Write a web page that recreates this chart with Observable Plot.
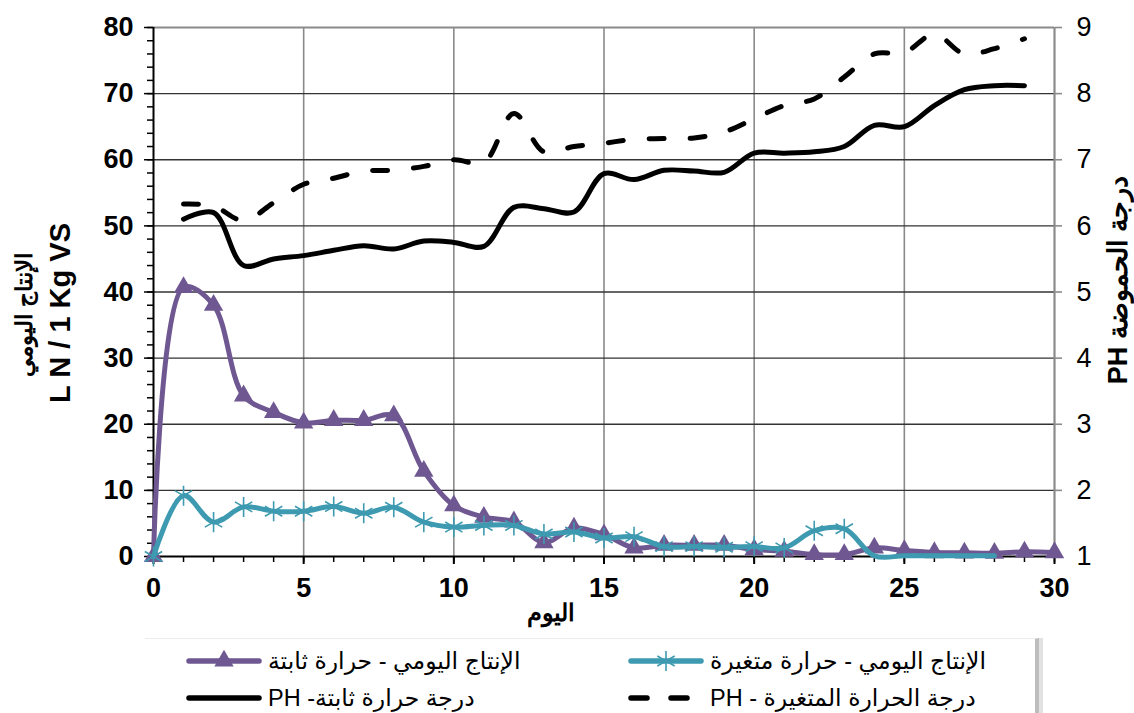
<!DOCTYPE html>
<html>
<head>
<meta charset="utf-8">
<script src="https://cdn.jsdelivr.net/npm/d3@7"></script>
<script src="https://cdn.jsdelivr.net/npm/@observablehq/plot@0.6"></script>
<style>
  html, body { margin: 0; padding: 0; background: #fff; }
  #wrap { position: relative; width: 1134px; height: 713px; overflow: hidden; font-family: "Liberation Sans", Arial, "DejaVu Sans", sans-serif; }
  #chart { position: absolute; left: 0; top: 0; }
  #legend { position: absolute; left: 145px; top: 638px; width: 890px; height: 80px; border-top: 1px solid #ececec; border-right: 4px solid #bdbdbd; box-shadow: 4px 0 0 #e2e2e2; }
  .item { position: absolute; height: 30px; display: flex; align-items: center; }
  .item span { font-size: 23.5px; color: #000; white-space: nowrap; }
</style>
</head>
<body>
<div id="wrap">
  <div id="chart"></div>
  <div id="legend"></div>
</div>
<script>
// ---- data ----
const days = [0,1,2,3,4,5,6,7,8,9,10,11,12,13,14,15,16,17,18,19,20,21,22,23,24,25,26,27,28,29,30];
// daily production, constant temperature (L N / 1 Kg VS)
const prodConst = [0,40.7,38,24.3,21.8,20.2,20.6,20.6,21.3,12.9,7.7,5.95,5.25,2.1,4.3,3.3,1.3,1.7,1.7,1.7,1.05,0.8,0.3,0.3,1.3,0.9,0.6,0.55,0.5,0.7,0.6];
// daily production, variable temperature
const prodVar = [0,9.2,5.2,7.5,6.85,6.85,7.55,6.55,7.45,5.2,4.45,4.7,4.7,3.4,3.7,2.8,3.0,1.5,1.5,1.4,1.5,1.3,3.9,4.2,0.1,0.1,0.1,0.1,0.1,null,null];
// pH, constant temperature
const phConst = [null,6.1,6.2,5.4,5.5,5.55,5.63,5.7,5.65,5.77,5.75,5.69,6.28,6.26,6.21,6.79,6.7,6.84,6.83,6.81,7.1,7.1,7.12,7.2,7.52,7.5,7.82,8.06,8.12,8.12,null];
// pH, variable temperature
const phVar = [null,6.33,6.3,6.08,6.35,6.63,6.72,6.83,6.84,6.9,7.0,6.96,7.7,7.12,7.2,7.25,7.31,7.32,7.33,7.42,7.62,7.82,7.92,8.25,8.6,8.62,8.9,8.6,8.68,8.83,null];

const xTicks = [0,5,10,15,20,25,30];
const yTicks = [0,10,20,30,40,50,60,70,80];
const phTicks = [1,2,3,4,5,6,7,8,9];
const lastVarMarkerDay = 23;

const xLabel = "اليوم";
const yLabel1 = "الإنتاج اليومي";
const yLabel2 = "L N / 1 Kg VS";
const y2Label = "درجة الحموضة PH";
const legendLabels = {
  pc: "الإنتاج اليومي - حرارة ثابتة",
  pv: "الإنتاج اليومي - حرارة متغيرة",
  hc: "درجة حرارة ثابتة- PH",
  hv: "درجة الحرارة المتغيرة - PH"
};

const PURPLE = "#6f5891";
const TEAL = "#3e9ab0";
const GRIDV = "#8a8a8a";
const GRIDH = "#333333";

// pH (1..9) mapped onto left scale (0..80)
const toLeft = v => (v - 1) * 10;

const rows = days.map((d, i) => ({day: d, pc: prodConst[i], pv: prodVar[i], hc: phConst[i], hv: phVar[i]}));
const rPc = rows.filter(r => r.pc != null);
const rPv = rows.filter(r => r.pv != null);
const rHc = rows.filter(r => r.hc != null).map(r => ({day: r.day, y: toLeft(r.hc)}));
const rHv = rows.filter(r => r.hv != null).map(r => ({day: r.day, y: toLeft(r.hv)}));

const curve = "catmull-rom";

const chart = Plot.plot({
  width: 1134,
  height: 633,
  marginLeft: 153,
  marginRight: 80,
  marginTop: 27,
  marginBottom: 77,
  x: {domain: [0, 30]},
  y: {domain: [0, 80]},
  style: {fontFamily: "'Liberation Sans', Arial, sans-serif", fontSize: "25px", color: "#000", background: "transparent", overflow: "visible"},
  marks: [
    // grid
    Plot.ruleX(xTicks.filter(v => v > 0 && v < 30), {stroke: GRIDV, strokeWidth: 1.6}),
    Plot.ruleY(yTicks.filter(v => v > 0 && v < 80), {stroke: GRIDH, strokeWidth: 1.4}),
    Plot.ruleY([80], {stroke: GRIDV, strokeWidth: 2.2}),
    Plot.ruleX([30], {stroke: GRIDV, strokeWidth: 2.2}),
    // axes
    Plot.axisY(d3.range(0, 81, 2), {tickSize: 6, tickFormat: () => "", label: null, strokeWidth: 1.5}),
    Plot.axisY(yTicks, {tickSize: 9, tickPadding: 11, fontWeight: "bold", label: null, strokeWidth: 1.5, ariaLabel: "left-ticks"}),
    Plot.axisX(days, {tickSize: 6, tickFormat: () => "", label: null, strokeWidth: 1.5}),
    Plot.axisX(xTicks, {tickSize: 8, tickPadding: 13, fontWeight: "bold", label: null, strokeWidth: 2}),
    Plot.axisY(phTicks.map(toLeft), {anchor: "right", tickSize: 7, tickPadding: 15, stroke: GRIDV, strokeWidth: 1.6, tickFormat: d => d / 10 + 1, label: null}),
    Plot.ruleX([0], {stroke: "#000", strokeWidth: 2}),
    Plot.ruleY([0], {stroke: "#000", strokeWidth: 2}),
    // pH lines
    Plot.line(rHv, {x: "day", y: "y", stroke: "#000", strokeWidth: 5, curve, strokeDasharray: "15,26", strokeLinecap: "round"}),
    Plot.line(rHc, {x: "day", y: "y", stroke: "#000", strokeWidth: 5, curve}),
    // production lines
    Plot.line(rPc, {x: "day", y: "pc", stroke: PURPLE, strokeWidth: 5, curve}),
    Plot.dot(rPc, {x: "day", y: "pc", symbol: "triangle", r: 7.2, fill: PURPLE}),
    Plot.line(rPv, {x: "day", y: "pv", stroke: TEAL, strokeWidth: 5, curve}),
    Plot.dot(rPv.filter(r => r.day <= lastVarMarkerDay), {x: "day", y: "pv", symbol: "asterisk", r: 9.5, stroke: TEAL, strokeWidth: 1.6})
  ]
});
document.getElementById("chart").appendChild(chart);

const svg = d3.select(chart);
// enlarge tick label text
svg.selectAll('g[aria-label$="tick label"]').attr("font-size", 27).style("font-size", "27px");

// axis titles
svg.append("text").text(xLabel)
  .attr("x", 551).attr("y", 621).attr("text-anchor", "middle")
  .attr("font-weight", "bold").attr("font-size", 24).attr("fill", "#000");
svg.append("text").text(yLabel2)
  .attr("transform", "translate(60,313) rotate(-90)")
  .attr("text-anchor", "middle").attr("dominant-baseline", "central")
  .attr("font-weight", "bold").attr("font-size", 29).attr("fill", "#000");
svg.append("text").text(yLabel1)
  .attr("transform", "translate(24,315) rotate(-90)")
  .attr("text-anchor", "middle").attr("dominant-baseline", "central")
  .attr("font-weight", "bold").attr("font-size", 23).attr("fill", "#000");
svg.append("text").text(y2Label)
  .attr("transform", "translate(1118,280) rotate(-90)")
  .attr("direction", "rtl")
  .attr("text-anchor", "middle").attr("dominant-baseline", "central")
  .attr("font-weight", "bold").attr("font-size", 27).attr("fill", "#000");

// legend
const legend = document.getElementById("legend");
const L0 = 145, T0 = 638;
function symbolSvg(kind) {
  const w = 76, h = 24, m = h / 2;
  let s = `<svg width="${w}" height="${h}" style="overflow:visible">`;
  if (kind === "pc") {
    s += `<line x1="3" x2="${w - 3}" y1="${m}" y2="${m}" stroke="${PURPLE}" stroke-width="5.5" stroke-linecap="round"/>`;
    s += `<path transform="translate(${w / 2},${m})" d="${d3.symbol(d3.symbolTriangle, Math.PI * 7.2 * 7.2)()}" fill="${PURPLE}"/>`;
  } else if (kind === "pv") {
    s += `<line x1="3" x2="${w - 3}" y1="${m}" y2="${m}" stroke="${TEAL}" stroke-width="5.5" stroke-linecap="round"/>`;
    s += `<path transform="translate(${w / 2},${m})" d="${d3.symbol(d3.symbolAsterisk, Math.PI * 9.5 * 9.5)()}" fill="none" stroke="${TEAL}" stroke-width="1.6"/>`;
  } else if (kind === "hc") {
    s += `<line x1="3" x2="${w - 3}" y1="${m}" y2="${m}" stroke="#000" stroke-width="5.5" stroke-linecap="round"/>`;
  } else {
    s += `<line x1="3" x2="${w - 3}" y1="${m}" y2="${m}" stroke="#000" stroke-width="5.5" stroke-linecap="round" stroke-dasharray="16,24"/>`;
  }
  return s + "</svg>";
}
const items = [
  {k: "pc", x: 186, y: 660},
  {k: "pv", x: 628, y: 660},
  {k: "hc", x: 186, y: 697},
  {k: "hv", x: 628, y: 697}
];
items.forEach(it => {
  const div = document.createElement("div");
  div.className = "item";
  div.style.left = (it.x - L0) + "px";
  div.style.top = (it.y - T0 - 15) + "px";
  div.innerHTML = symbolSvg(it.k) + `<span dir="rtl" style="margin-left:6px">${legendLabels[it.k]}</span>`;
  legend.appendChild(div);
});
</script>
</body>
</html>
